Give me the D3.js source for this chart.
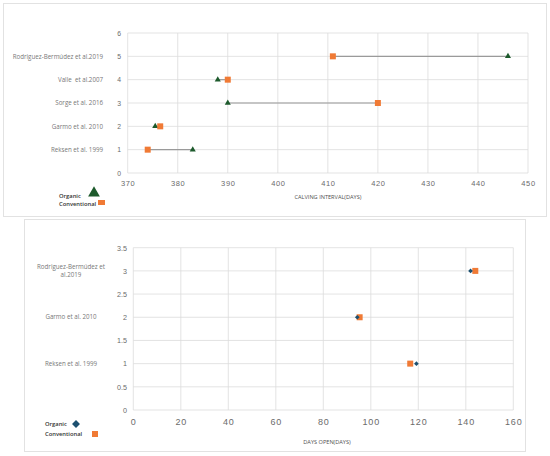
<!DOCTYPE html>
<html>
<head>
<meta charset="utf-8">
<script src="https://cdn.jsdelivr.net/npm/d3@7"></script>
<style>
  body { margin: 0; background: #fff; }
  svg { font-family: "Open Sans", "Noto Sans", sans-serif; }
</style>
</head>
<body>
<div id="chart"></div>
<script>
// calving interval chart (top)
var calvStudies = ["Reksen et al. 1999", "Garmo et al. 2010", "Sorge et al. 2016", "Valle  et al.2007", "Rodriguez-Bermúdez et al.2019"];
var calvRows = [1, 2, 3, 4, 5];
var calvOrganic = [383, 375.5, 390, 388, 446];
var calvConventional = [374, 376.5, 420, 390, 411];
var calvXTicks = [370, 380, 390, 400, 410, 420, 430, 440, 450];
var calvYTicks = [0, 1, 2, 3, 4, 5, 6];

// days open chart (bottom)
var openStudies = ["Reksen et al. 1999", "Garmo et al. 2010", ["Rodriguez-Bermúdez et", "al.2019"]];
var openRows = [1, 2, 3];
var openOrganic = [119.2, 94.3, 142];
var openConventional = [116.6, 95.3, 144];
var openXTicks = [0, 20, 40, 60, 80, 100, 120, 140, 160];
var openYTicks = [0, 0.5, 1, 1.5, 2, 2.5, 3, 3.5];

var green = "#1d5a2c", orange = "#f07a35", teal = "#1c5070";
var gridCol = "#dcdcdc", tickCol = "#6b6b6b";

var svg = d3.select("#chart").append("svg")
  .attr("width", 550)
  .attr("height", 456);

// panel frames
svg.append("rect").attr("x", 3.5).attr("y", 3.5).attr("width", 543).attr("height", 213)
  .attr("fill", "#fff").attr("stroke", "#e2e2e2");
svg.append("rect").attr("x", 24.5).attr("y", 219.5).attr("width", 501).attr("height", 232)
  .attr("fill", "#fff").attr("stroke", "#e2e2e2");

function grid(g, x, y, xt, yt) {
  g.selectAll("line.v").data(xt).enter().append("line")
    .attr("x1", d => x(d)).attr("x2", d => x(d))
    .attr("y1", y.range()[0]).attr("y2", y.range()[1])
    .attr("stroke", gridCol).attr("stroke-width", 0.8);
  g.selectAll("line.h").data(yt).enter().append("line")
    .attr("y1", d => y(d)).attr("y2", d => y(d))
    .attr("x1", x.range()[0]).attr("x2", x.range()[1])
    .attr("stroke", gridCol).attr("stroke-width", 0.8);
}

function axes(g, x, y, xt, yt, xfs, yfs, xls, yLabX, xLabY) {
  var ax = d3.axisBottom(x).tickValues(xt).tickSize(0).tickPadding(0);
  var gx = g.append("g").attr("transform", "translate(0," + xLabY + ")").call(ax);
  gx.select(".domain").remove();
  gx.selectAll("text").attr("fill", tickCol).style("font-size", xfs + "px")
    .style("letter-spacing", xls + "px").attr("dy", "0.35em");
  var ay = d3.axisLeft(y).tickValues(yt).tickSize(0).tickPadding(0).tickFormat(d3.format("~g"));
  var gy = g.append("g").attr("transform", "translate(" + yLabX + ",0)").call(ay);
  gy.select(".domain").remove();
  gy.selectAll("text").attr("fill", tickCol).style("font-size", yfs + "px");
}

// ---------- top chart ----------
var x1 = d3.scaleLinear().domain([370, 450]).range([127.7, 528]);
var y1 = d3.scaleLinear().domain([0, 6]).range([173, 33]);
var g1 = svg.append("g");
grid(g1, x1, y1, calvXTicks, calvYTicks);
axes(g1, x1, y1, calvXTicks, calvYTicks, 7.5, 6.8, 0.6, 121, 183);

var calvData = calvRows.map((r, i) => ({row: r, name: calvStudies[i], org: calvOrganic[i], conv: calvConventional[i]}));

g1.selectAll("line.range").data(calvData).enter().append("line")
  .attr("x1", d => x1(d.org)).attr("x2", d => x1(d.conv))
  .attr("y1", d => y1(d.row)).attr("y2", d => y1(d.row))
  .attr("stroke", "#9a9a9a").attr("stroke-width", 1.2);

g1.selectAll("path.org").data(calvData).enter().append("path")
  .attr("d", d3.symbol(d3.symbolTriangle, 16))
  .attr("transform", d => "translate(" + x1(d.org) + "," + y1(d.row) + ")")
  .attr("fill", green);

g1.selectAll("rect.conv").data(calvData).enter().append("rect")
  .attr("x", d => x1(d.conv) - 3).attr("y", d => y1(d.row) - 3)
  .attr("width", 6).attr("height", 6).attr("fill", orange);

g1.selectAll("text.study").data(calvData).enter().append("text")
  .attr("x", 103).attr("y", d => y1(d.row)).attr("dy", "0.35em")
  .attr("text-anchor", "end").attr("fill", "#777").style("font-size", "6.2px")
  .style("white-space", "pre")
  .text(d => d.name);

g1.append("text").attr("x", 328).attr("y", 199).attr("text-anchor", "middle")
  .attr("fill", "#505050").style("font-size", "5.6px").text("CALVING INTERVAL(DAYS)");

// legend top
g1.append("text").attr("x", 59).attr("y", 198).attr("fill", "#333").style("font-size", "5.8px")
  .style("font-weight", "600").text("Organic");
g1.append("path").attr("d", d3.symbol(d3.symbolTriangle, 60))
  .attr("transform", "translate(94,193)").attr("fill", green);
g1.append("text").attr("x", 59).attr("y", 206).attr("fill", "#333").style("font-size", "5.8px")
  .style("font-weight", "600").text("Conventional");
g1.append("rect").attr("x", 98).attr("y", 200).attr("width", 7).attr("height", 5).attr("fill", orange);

// ---------- bottom chart ----------
var x2 = d3.scaleLinear().domain([0, 160]).range([133.3, 513.3]);
var y2 = d3.scaleLinear().domain([0, 3.5]).range([410, 247.7]);
var g2 = svg.append("g");
grid(g2, x2, y2, openXTicks, openYTicks);
axes(g2, x2, y2, openXTicks, openYTicks, 9, 7.2, 0.9, 127, 422);

var openData = openRows.map((r, i) => ({row: r, name: openStudies[i], org: openOrganic[i], conv: openConventional[i]}));

g2.selectAll("rect.conv").data(openData).enter().append("rect")
  .attr("x", d => x2(d.conv) - 3).attr("y", d => y2(d.row) - 3)
  .attr("width", 6).attr("height", 6).attr("fill", orange);

g2.selectAll("path.org").data(openData).enter().append("path")
  .attr("d", d3.symbol(d3.symbolDiamond2, 14))
  .attr("transform", d => "translate(" + x2(d.org) + "," + y2(d.row) + ")")
  .attr("fill", teal);

var labs = g2.selectAll("text.study").data(openData).enter().append("text")
  .attr("x", 71).attr("y", d => y2(d.row))
  .attr("text-anchor", "middle").attr("fill", "#777").style("font-size", "6.2px");
labs.each(function(d) {
  var lines = Array.isArray(d.name) ? d.name : [d.name];
  var t = d3.select(this);
  lines.forEach((l, k) => {
    t.append("tspan").attr("x", 71)
      .attr("dy", k === 0 ? (0.35 - (lines.length - 1) * 0.7) + "em" : "1.4em")
      .text(l);
  });
});

g2.append("text").attr("x", 327).attr("y", 444).attr("text-anchor", "middle")
  .attr("fill", "#505050").style("font-size", "5.6px").text("DAYS OPEN(DAYS)");

// legend bottom
g2.append("text").attr("x", 45).attr("y", 426).attr("fill", "#333").style("font-size", "5.8px")
  .style("font-weight", "600").text("Organic");
g2.append("path").attr("d", d3.symbol(d3.symbolDiamond2, 40))
  .attr("transform", "translate(76,424)").attr("fill", teal);
g2.append("text").attr("x", 45).attr("y", 436).attr("fill", "#333").style("font-size", "5.8px")
  .style("font-weight", "600").text("Conventional");
g2.append("rect").attr("x", 92).attr("y", 431).attr("width", 6).attr("height", 6).attr("fill", orange);
</script>
</body>
</html>
